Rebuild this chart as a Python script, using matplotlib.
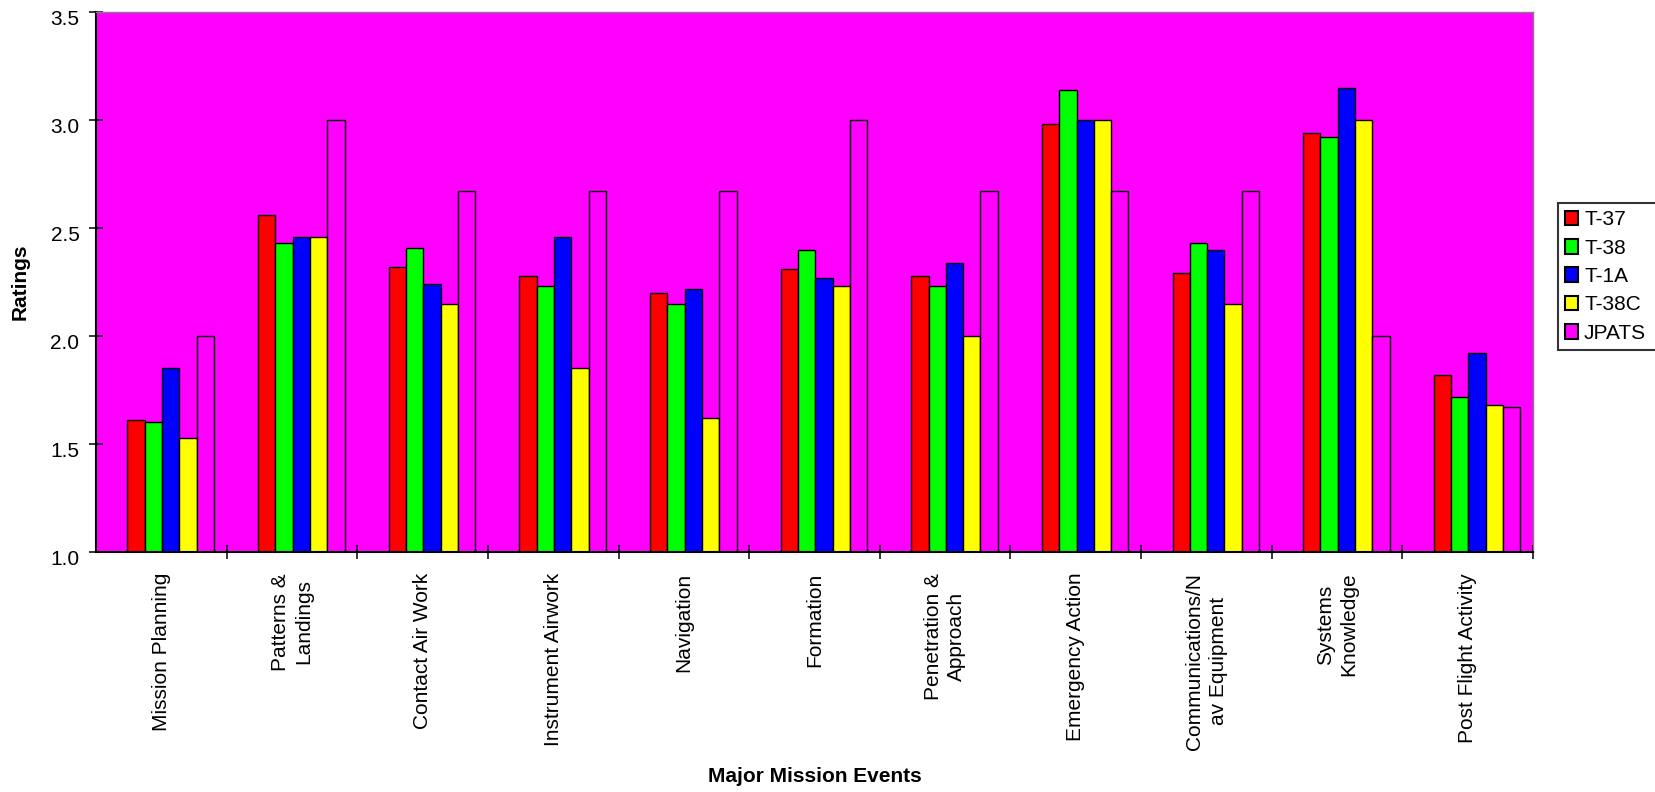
import numpy as np
import matplotlib.pyplot as plt
from matplotlib.patches import Rectangle
from matplotlib.legend_handler import HandlerPatch
from matplotlib.transforms import ScaledTranslation

# Mean ratings per major mission event for each trainer aircraft
events = ["Mission Planning", "Patterns &\nLandings", "Contact Air Work",
          "Instrument Airwork", "Navigation", "Formation",
          "Penetration &\nApproach", "Emergency Action",
          "Communications/N\nav Equipment", "Systems\nKnowledge",
          "Post Flight Activity"]
t37 = [1.61, 2.56, 2.32, 2.28, 2.20, 2.31, 2.28, 2.98, 2.29, 2.94, 1.82]
t38 = [1.60, 2.43, 2.41, 2.23, 2.15, 2.40, 2.23, 3.14, 2.43, 2.92, 1.72]
t1a = [1.85, 2.46, 2.24, 2.46, 2.22, 2.27, 2.34, 3.00, 2.40, 3.15, 1.92]
t38c = [1.53, 2.46, 2.15, 1.85, 1.62, 2.23, 2.00, 3.00, 2.15, 3.00, 1.68]
jpats = [2.00, 3.00, 2.67, 2.67, 2.67, 3.00, 2.67, 2.67, 2.67, 2.00, 1.67]
yticks = [1.0, 1.5, 2.0, 2.5, 3.0, 3.5]

series = [("T-37", t37, "#FF0000"), ("T-38", t38, "#00FF00"),
          ("T-1A", t1a, "#0000FF"), ("T-38C", t38c, "#FFFF00"),
          ("JPATS", jpats, "#FF00FF")]

plt.rcParams["font.family"] = ["Liberation Sans", "DejaVu Sans"]
fs = 15

fig = plt.figure(figsize=(16.56, 7.92), dpi=100)
ax = fig.add_axes([0.058, 0.303, 0.8677, 0.6817])
ax.set_facecolor("#FF00FF")

x = np.arange(len(events))
width = 0.1325
offset = 0.072
for i, (name, vals, color) in enumerate(series):
    pos = x + offset + (i - 2) * width
    ax.bar(pos, np.array(vals) - 1.0, width, bottom=1.0, color=color,
           edgecolor="black", linewidth=1.0, label=name)

ax.set_ylim(1.0, 3.5)
ax.set_xlim(-0.5, 10.5)
ax.set_yticks(yticks)
ax.set_yticklabels(["%.1f" % v for v in yticks], fontsize=fs)
ax.tick_params(axis="y", direction="inout", length=10, width=1.1, pad=7)
# value labels sit a little below their tick marks
shift = ScaledTranslation(0, -4 / 72, fig.dpi_scale_trans)
for lab in ax.get_yticklabels():
    lab.set_transform(lab.get_transform() + shift)

# category labels centred in each slot, ticks on the slot boundaries
ax.set_xticks(x)
ax.set_xticklabels(events, rotation=90, fontsize=fs, ha="center", va="top",
                   multialignment="center", linespacing=1.3)
ax.tick_params(axis="x", which="major", length=0, pad=15)
ax.set_xticks(x + 0.5, minor=True)
ax.tick_params(axis="x", which="minor", direction="inout", length=10,
               width=1.1)

for side in ["left", "bottom"]:
    ax.spines[side].set_linewidth(1.5)
    ax.spines[side].set_color("black")
for side in ["top", "right"]:
    ax.spines[side].set_linewidth(1.0)
    ax.spines[side].set_color("#808080")

ax.set_ylabel("Ratings", fontsize=fs, fontweight="bold")
ax.yaxis.set_label_coords(-0.046, 0.5)
ax.set_xlabel("Major Mission Events", fontsize=fs, fontweight="bold")
ax.xaxis.set_label_coords(0.5, -0.415)
ax.xaxis.label.set_va("center")


def raised_square(legend, orig_handle, xdescent, ydescent, width, height,
                  fontsize):
    side = 0.6 * fontsize
    return Rectangle((-xdescent, -ydescent + 0.45 * fontsize), side, side * 0.9)


# legend box runs off the right edge of the figure
leg = fig.legend(loc="upper left", bbox_to_anchor=(0.9408, 0.7437, 0.08, 0),
                 mode="expand", fontsize=fs, frameon=True, fancybox=False,
                 handlelength=0.6, handleheight=0.7, handletextpad=0.3,
                 labelspacing=0.45, borderpad=0.35, borderaxespad=0,
                 handler_map={Rectangle: HandlerPatch(patch_func=raised_square)})
leg.get_frame().set_edgecolor("black")
leg.get_frame().set_linewidth(1.5)
for h in leg.legend_handles:
    h.set_linewidth(1.5)
    h.set_edgecolor("black")

fig.savefig("out.png", dpi=100)
